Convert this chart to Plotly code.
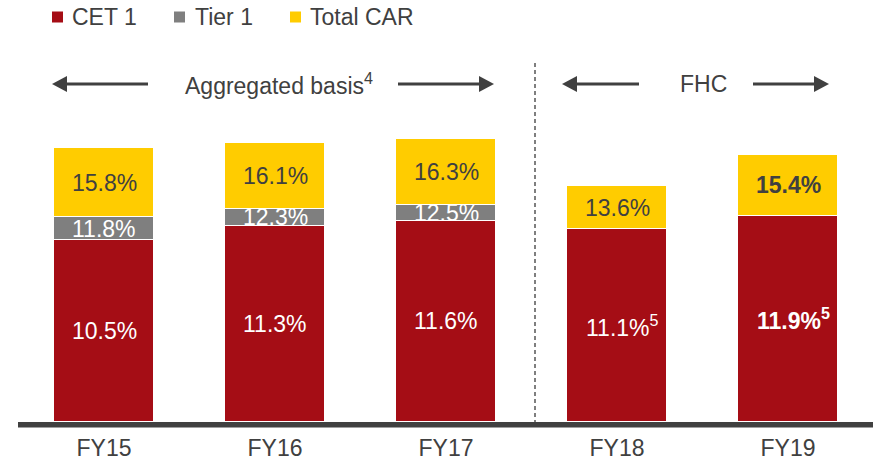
import plotly.graph_objects as go

categories = ["FY15", "FY16", "FY17", "FY18", "FY19"]
cet1 = [10.5, 11.3, 11.6, 11.1, 11.9]
tier1 = [11.8, 12.3, 12.5, None, None]
total_car = [15.8, 16.1, 16.3, 13.6, 15.4]
cet1_labels = ["10.5%", "11.3%", "11.6%", "11.1%<sup>5</sup>", "<b>11.9%<sup>5</sup></b>"]
tier1_labels = ["11.8%", "12.3%", "12.5%", "", ""]
car_labels = ["15.8%", "16.1%", "16.3%", "13.6%", "<b>15.4%</b>"]
legend_names = ["CET 1", "Tier 1", "Total CAR"]

RED = "#A50D15"
GRAY = "#7F7F7F"
YELLOW = "#FFCC00"
DARK = "#404040"
FONT = "Liberation Sans, Arial, sans-serif"

OFF = 0  # body margin removed via post_script
W, H = 876 - OFF, 465 - OFF
# target plot area in page pixels: x 18..873, y 40..422
ML = 18 - OFF
MR = W - (873 - OFF)
MT = 40 - OFF
MB = H - (422 - OFF)
PW = W - ML - MR
PH = H - MT - MB

def px(x):
    return (x - OFF - ML) / PW

def py(y):
    return (H - MB - (y - OFF)) / PH

t1_top = [t if t is not None else c for t, c in zip(tier1, cet1)]
t1_seg = [t - c for t, c in zip(t1_top, cet1)]
car_seg = [v - t for v, t in zip(total_car, t1_top)]

BW = 0.585
fig = go.Figure()
for name, vals, col in [(legend_names[0], cet1, RED), (legend_names[1], t1_seg, GRAY), (legend_names[2], car_seg, YELLOW)]:
    fig.add_trace(go.Bar(x=categories, y=vals, name=name, width=BW,
                         marker=dict(color=col, line=dict(color="white", width=1)),
                         showlegend=False))

ann = []
for i, cat in enumerate(categories):
    ann.append(dict(x=cat, y=cet1[i] / 2, text=cet1_labels[i], showarrow=False,
                    xanchor="center", yanchor="middle",
                    xshift=5 if "sup" in cet1_labels[i] else 0,
                    font=dict(size=23, color="white", family=FONT)))
    if tier1_labels[i]:
        ann.append(dict(x=cat, y=(cet1[i] + t1_top[i]) / 2, text=tier1_labels[i], showarrow=False,
                        xanchor="center", yanchor="middle",
                        font=dict(size=23, color="white", family=FONT)))
    ann.append(dict(x=cat, y=(t1_top[i] + total_car[i]) / 2, text=car_labels[i], showarrow=False,
                    xanchor="center", yanchor="middle",
                    font=dict(size=23, color=DARK, family=FONT)))

# section headings
ann.append(dict(xref="paper", yref="paper", x=px(279), y=py(84), text="Aggregated basis<sup>4</sup>",
                xanchor="center", yanchor="middle",
                showarrow=False, font=dict(size=23, color=DARK, family=FONT)))
ann.append(dict(xref="paper", yref="paper", x=px(703), y=py(84), text="FHC",
                xanchor="center", yanchor="middle",
                showarrow=False, font=dict(size=23, color=DARK, family=FONT)))

shapes = []
# arrows (head, tail) drawn as line + triangle
AY = 84
HL, HH = 15, 8
for head, tail in [(52, 148), (494, 398), (562, 639), (829, 753)]:
    d = 1 if head > tail else -1
    base = head - d * HL
    shapes.append(dict(type="line", xref="paper", yref="paper", x0=px(tail), x1=px(base + d * 1),
                       y0=py(AY), y1=py(AY), line=dict(color=DARK, width=3)))
    path = "M {},{} L {},{} L {},{} Z".format(px(head), py(AY), px(base), py(AY - HH), px(base), py(AY + HH))
    shapes.append(dict(type="path", xref="paper", yref="paper", path=path,
                       fillcolor=DARK, line=dict(width=0)))

# legend
leg_sq = [(52, 63), (174, 185), (290, 301)]
leg_text_x = [70, 193, 308]
cols = [RED, GRAY, YELLOW]
for (a, b), tx, c, n in zip(leg_sq, leg_text_x, cols, legend_names):
    shapes.append(dict(type="rect", xref="paper", yref="paper", x0=px(a), x1=px(b),
                       y0=py(22.5), y1=py(11.5), fillcolor=c, line=dict(width=0)))
    ann.append(dict(xref="paper", yref="paper", x=px(tx), y=py(17), xanchor="left", yanchor="middle",
                    text=n, showarrow=False, font=dict(size=23, color=DARK, family=FONT)))

# axis baseline
shapes.append(dict(type="rect", xref="paper", yref="paper", x0=0, x1=1,
                   y0=py(427.5), y1=py(422), fillcolor=DARK, line=dict(width=0)))
# dashed separator
shapes.append(dict(type="line", xref="paper", yref="paper", x0=px(535), x1=px(535),
                   y0=py(63), y1=py(422), line=dict(color="#555555", width=1.5, dash="4px,3px")))

fig.update_layout(
    width=W, height=H,
    margin=dict(l=ML, r=MR, t=MT, b=MB, autoexpand=False),
    barmode="stack",
    bargap=0,
    plot_bgcolor="white", paper_bgcolor="white",
    xaxis=dict(range=[-0.503, 4.497], showgrid=False, showline=False, zeroline=False, automargin=False,
               ticks="", tickfont=dict(size=23, color=DARK, family=FONT), ticklabelstandoff=10),
    yaxis=dict(range=[0, PH / 17.35], visible=False, showgrid=False, zeroline=False, automargin=False),
    annotations=ann,
    shapes=shapes,
    showlegend=False,
)

fig.write_html("out.html", config={"displayModeBar": False},
               post_script="document.body.style.margin='0';document.body.style.overflow='hidden';")
